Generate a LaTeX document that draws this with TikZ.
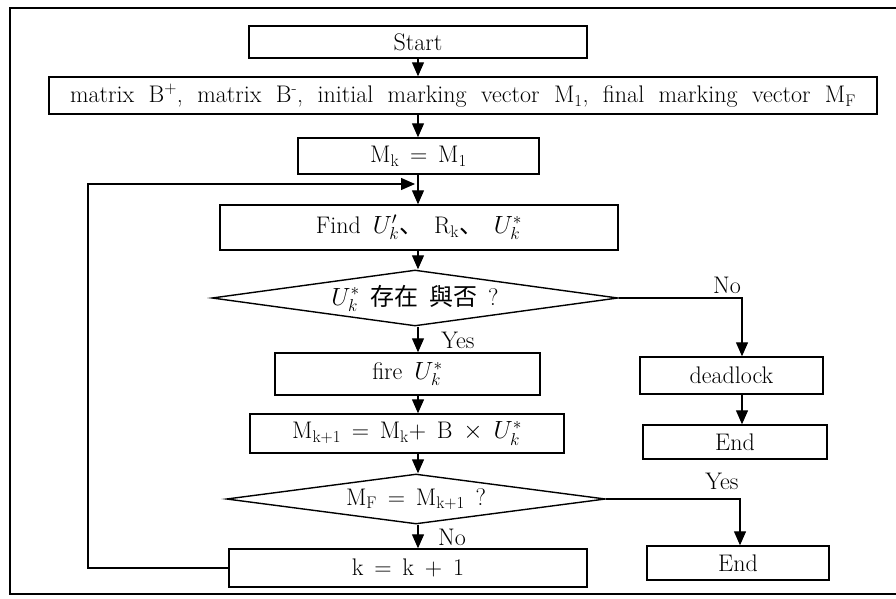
\documentclass[tikz,border=0pt]{standalone}
\usepackage{fontspec}
\newfontfamily\cjk{Noto Sans CJK KR}
\usetikzlibrary{shapes.geometric,arrows.meta,calc}
\newcommand\widesp{\spaceskip=10.8pt plus 2pt\relax}
\newcommand\widersp{\spaceskip=14.4pt plus 2pt\relax}
\begin{document}
\begin{tikzpicture}[x=1pt,y=-1pt,
  txt/.style={font=\fontsize{24}{28}\selectfont,execute at begin node=\widesp},
  box/.style={draw,line width=1.4pt,inner sep=0pt,txt},
  dia/.style={draw,line width=1.4pt,inner sep=0pt,shape=diamond,txt},
  arr/.style={line width=1.2pt,-{Triangle[length=14pt,width=12pt]}},
  lbl/.style={inner sep=0pt,txt}]
\useasboundingbox (0,0) rectangle (896,599);
% frame
\draw[line width=1.3pt] (896,8) -- (10,8) -- (10,594) -- (896,594);
% axis coordinates
\coordinate (ax) at (418,0);
\coordinate (rx) at (742,0);
\coordinate (rx2) at (740,0);
% nodes
\node[box,minimum width=338pt,minimum height=32pt] (start) at (418,42) {Start};
\node[box,minimum width=828pt,minimum height=37pt] (mat) at (463,95.5)
  {\widersp matrix B\textsuperscript{+}, matrix B\textsuperscript{-}, initial marking vector M\textsubscript{1}, final marking vector M\textsubscript{F}};
\node[box,minimum width=241pt,minimum height=36pt] (mk) at (418.5,156) {M\textsubscript{k} = M\textsubscript{1}};
\node[box,minimum width=398pt,minimum height=45pt] (find) at (419,227.5)
  {Find\enspace $U_k'${\cjk 、} R\textsubscript{k}{\cjk 、} $U_k^*$};
\node[dia,minimum width=406pt,minimum height=56pt,aspect=7.25] (d1) at (415,298)
  {$U_k^*$ {\cjk 存在 與否} ?};
\node[box,minimum width=265pt,minimum height=42pt] (fire) at (407.5,374) {fire\enspace $U_k^*$};
\node[box,minimum width=314pt,minimum height=39pt] (mk1) at (407,433.5)
  {M\textsubscript{k+1} = M\textsubscript{k}+ B $\times$ $U_k^*$};
\node[dia,minimum width=379pt,minimum height=50pt,aspect=7.6] (d2) at (416,499)
  {M\textsubscript{F} = M\textsubscript{k+1} ?};
\node[box,minimum width=358pt,minimum height=38pt] (kbox) at (408,568) {k = k + 1};
\node[box,minimum width=183pt,minimum height=37pt] (dead) at (731.5,375.5) {deadlock};
\node[box,minimum width=184pt,minimum height=34pt] (end1) at (735,442) {End};
\node[box,minimum width=182pt,minimum height=34pt] (end2) at (738,563) {End};
% labels
\node[lbl] (no1) at (727,285) {No};
\node[lbl] (yes1) at (458,340) {Yes};
\node[lbl] (yes2) at (722,481) {Yes};
\node[lbl] (no2) at (452,537) {No};
% connectors
\draw[arr] (start.south -| ax) -- (mat.north -| ax);
\draw[arr] (mat.south -| ax) -- (mk.north -| ax);
\draw[arr] (mk.south -| ax) -- (find.north -| ax);
\draw[arr] (find.south -| ax) -- (d1.north -| ax);
\draw[arr] (d1.south -| ax) -- (fire.north -| ax);
\draw[arr] (fire.south -| ax) -- (mk1.north -| ax);
\draw[arr] (mk1.south -| ax) -- (d2.north -| ax);
\draw[arr] (d2.south -| ax) -- (kbox.north -| ax);
\coordinate (lp) at (88,184);
\coordinate (lj) at (415,184);
\draw[arr] (kbox.west) -| (lp) -- (lj);
\draw[arr] (d1.east) -| (dead.north -| rx);
\draw[arr] (dead.south -| rx) -- (end1.north -| rx);
\draw[arr] (d2.east) -| (end2.north -| rx2);
\end{tikzpicture}
\end{document}
